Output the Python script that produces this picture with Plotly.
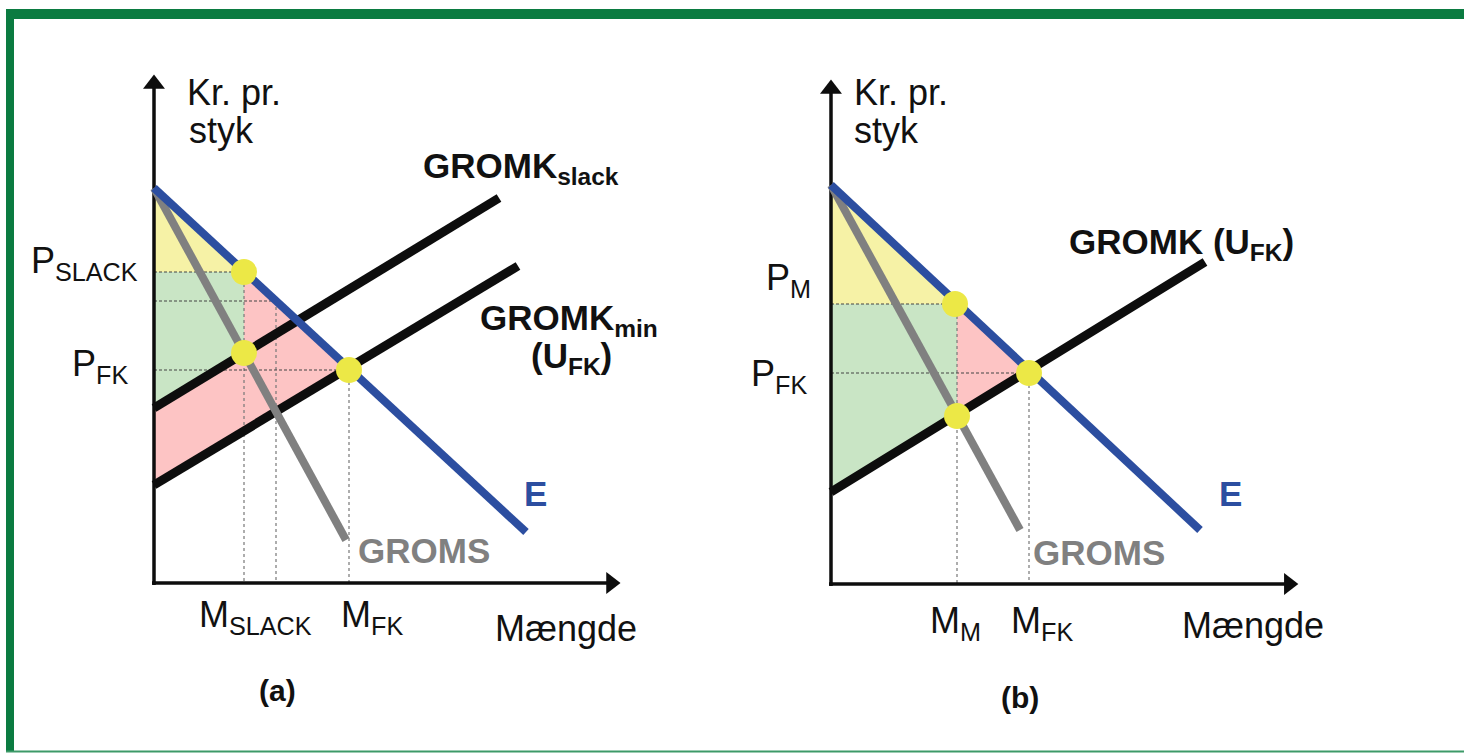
import plotly.graph_objects as go

# ---- Panel (a): quantity / price in arbitrary units, origin at the axes corner
a_E_q = [0, 9.3]
a_E_p = [9.875, 1.275]
a_groms_q = [0, 4.8]
a_groms_p = [9.875, 1.075]
a_slack_q = [0, 8.625]
a_slack_p = [4.375, 9.625]
a_min_q = [0, 9.1]
a_min_p = [2.45, 7.925]
a_dots_q = [2.25, 2.25, 4.875]       # P_slack on E, GROMS x GROMK_slack, E x GROMK_min
a_dots_p = [7.775, 5.75, 5.325]
a_mono_q, a_mono_p = 3.05, 7.05      # GROMS x GROMK_min, price read on E (guides only)

# ---- Panel (b)
b_E_q = [0, 9.225]
b_E_p = [9.975, 1.35]
b_groms_q = [0, 4.725]
b_groms_p = [9.975, 1.35]
b_gromk_q = [0, 9.35]
b_gromk_p = [2.3, 8.05]
b_dots_q = [3.1, 3.15, 4.95]         # P_M on E, GROMS x GROMK, E x GROMK
b_dots_p = [7.0, 4.2, 5.275]

# axis arrow tips (quantity, price)
a_tip_q, a_tip_p = 11.7, 12.75
b_tip_q, b_tip_p = 11.72, 12.65

BLUE = "#2c4ea0"
GREY = "#808080"
BLACK = "#0d0d0d"
DOT = "#ece846"
YELLOW_FILL = "#f6f2a6"
GREEN_FILL = "#c9e5c5"
PINK_FILL = "#fdc4c4"
FONT = "Liberation Sans, Arial, sans-serif"
PX = 40.0  # pixels per data unit

fig = go.Figure()


def poly(q, p, color, xa, ya):
    fig.add_trace(go.Scatter(x=q + [q[0]], y=p + [p[0]], fill="toself", fillcolor=color,
                             mode="lines", line=dict(width=0), hoverinfo="skip",
                             xaxis=xa, yaxis=ya))


def seg(q, p, color, width, xa, ya, dash=None):
    fig.add_trace(go.Scatter(x=q, y=p, mode="lines", line=dict(color=color, width=width, dash=dash),
                             hoverinfo="skip", xaxis=xa, yaxis=ya))


def axes_arrows(tq, tp, xa, ya):
    head = 19
    back = 1.155 * head / 2 / PX          # centre of triangle marker sits behind the tip
    seg([-0.05, tq - back], [0, 0], BLACK, 3.5, xa, ya)
    seg([0, 0], [-0.05, tp - back], BLACK, 3.5, xa, ya)
    fig.add_trace(go.Scatter(x=[tq - back], y=[0], mode="markers", hoverinfo="skip",
                             marker=dict(symbol="triangle-right", size=head, color=BLACK),
                             xaxis=xa, yaxis=ya))
    fig.add_trace(go.Scatter(x=[0], y=[tp - back], mode="markers", hoverinfo="skip",
                             marker=dict(symbol="triangle-up", size=head, color=BLACK),
                             xaxis=xa, yaxis=ya))


# ---------------- panel (a)
q1, q2, q3 = a_dots_q
p1, p2, p3 = a_dots_p
poly([0, q1, 0], [a_E_p[0], p1, p1], YELLOW_FILL, "x", "y")
poly([0, q1, q2, 0], [p1, p1, p2, a_slack_p[0]], GREEN_FILL, "x", "y")
poly([q1, q3, 0, 0, q2], [p1, p3, a_min_p[0], a_slack_p[0], p2], PINK_FILL, "x", "y")

for q, p in [(q1, p1), (a_mono_q, a_mono_p), (q3, p3)]:
    seg([0, q], [p, p], "#444", 1.2, "x", "y", dash="3px,2px")
    seg([q, q], [p, 0], "#777", 1.2, "x", "y", dash="dot")

axes_arrows(a_tip_q, a_tip_p, "x", "y")
seg(a_slack_q, a_slack_p, BLACK, 9, "x", "y")
seg(a_min_q, a_min_p, BLACK, 9, "x", "y")
seg(a_groms_q, a_groms_p, GREY, 8, "x", "y")
seg(a_E_q, a_E_p, BLUE, 8, "x", "y")
fig.add_trace(go.Scatter(x=a_dots_q, y=a_dots_p, mode="markers",
                         marker=dict(size=26, color=DOT), hoverinfo="skip", xaxis="x", yaxis="y"))

# ---------------- panel (b)
q1, q2, q3 = b_dots_q
p1, p2, p3 = b_dots_p
poly([0, q1, 0], [b_E_p[0], p1, p1], YELLOW_FILL, "x2", "y2")
poly([0, q2, q2, 0], [p1, p1, p2, b_gromk_p[0]], GREEN_FILL, "x2", "y2")
poly([q2, q3, q2], [p1, p3, p2], PINK_FILL, "x2", "y2")

for qh, qv, p in [(q1, q2, p1), (q3, q3, p3)]:
    seg([0, qh], [p, p], "#444", 1.2, "x2", "y2", dash="3px,2px")
    seg([qv, qv], [p, 0], "#777", 1.2, "x2", "y2", dash="dot")

axes_arrows(b_tip_q, b_tip_p, "x2", "y2")
seg(b_gromk_q, b_gromk_p, BLACK, 9, "x2", "y2")
seg(b_groms_q, b_groms_p, GREY, 8, "x2", "y2")
seg(b_E_q, b_E_p, BLUE, 8, "x2", "y2")
fig.add_trace(go.Scatter(x=b_dots_q, y=b_dots_p, mode="markers",
                         marker=dict(size=26, color=DOT), hoverinfo="skip", xaxis="x2", yaxis="y2"))

# ---------------- labels
ann = []


def label(xr, yr, q, p, text, size=36, color="#111", bold=False, xanchor="left"):
    if bold:
        text = "<b>" + text + "</b>"
    ann.append(dict(x=q, y=p, xref=xr, yref=yr, text=text, showarrow=False,
                    xanchor=xanchor, yanchor="middle",
                    font=dict(family=FONT, size=size, color=color)))


# panel (a)
label("x", "y", 0.775, 12.275, "Kr. pr.")
label("x", "y", 0.825, 11.325, "styk")
label("x", "y", 6.675, 10.38, "GROMK<sub>slack</sub>", size=35, bold=True)
label("x", "y", 8.1, 6.58, "GROMK<sub>min</sub>", size=35, bold=True)
label("x", "y", 10.425, 5.62, "(U<sub>FK</sub>)", size=35, bold=True, xanchor="center")
label("x", "y", -0.35, 8.0, "P<sub>SLACK</sub>", xanchor="right")
label("x", "y", -0.6, 5.42, "P<sub>FK</sub>", xanchor="right")
label("x", "y", 9.2, 2.25, "E", size=35, color=BLUE, bold=True)
label("x", "y", 5.05, 0.825, "GROMS", size=35, color=GREY, bold=True)
label("x", "y", 1.075, -0.85, "M<sub>SLACK</sub>")
label("x", "y", 4.625, -0.85, "M<sub>FK</sub>")
label("x", "y", 8.475, -1.125, "Mængde")
label("x", "y", 3.075, -2.675, "(a)", size=30, bold=True, xanchor="center")

# panel (b)
label("x2", "y2", 0.525, 12.3, "Kr. pr.")
label("x2", "y2", 0.525, 11.35, "styk")
label("x2", "y2", 5.9, 8.5, "GROMK (U<sub>FK</sub>)", size=35, bold=True)
label("x2", "y2", -0.45, 7.6, "P<sub>M</sub>", xanchor="right")
label("x2", "y2", -0.55, 5.2, "P<sub>FK</sub>", xanchor="right")
label("x2", "y2", 9.65, 2.275, "E", size=35, color=BLUE, bold=True)
label("x2", "y2", 5.0, 0.8, "GROMS", size=35, color=GREY, bold=True)
label("x2", "y2", 2.425, -0.975, "M<sub>M</sub>")
label("x2", "y2", 4.45, -0.975, "M<sub>FK</sub>")
label("x2", "y2", 8.725, -1.025, "Mængde")
label("x2", "y2", 4.725, -2.825, "(b)", size=30, bold=True, xanchor="center")

# ---------------- green frame
W, H = 1464, 753
frame = [
    dict(type="rect", xref="paper", yref="paper", x0=6 / W, x1=1.01, y0=1 - 19 / H, y1=1 - 9 / H,
         fillcolor="#0b7b41", line=dict(width=0), layer="above"),
    dict(type="rect", xref="paper", yref="paper", x0=6 / W, x1=14 / W, y0=1 - 752 / H, y1=1 - 9 / H,
         fillcolor="#0b7b41", line=dict(width=0), layer="above"),
    dict(type="rect", xref="paper", yref="paper", x0=6 / W, x1=1.01, y0=1 - 752.5 / H, y1=1 - 750.5 / H,
         fillcolor="#3d9a68", line=dict(width=0), layer="above"),
]

fig.update_layout(
    width=W, height=H, margin=dict(l=0, r=0, t=0, b=0),
    paper_bgcolor="white", plot_bgcolor="white", showlegend=False,
    xaxis=dict(domain=[0, 1], range=[-154 / PX, (W - 154) / PX], visible=False, fixedrange=True),
    yaxis=dict(domain=[0, 1], range=[-(H - 583) / PX, 583 / PX], visible=False, fixedrange=True),
    xaxis2=dict(domain=[0, 1], range=[-831 / PX, (W - 831) / PX], visible=False, fixedrange=True,
                overlaying="x"),
    yaxis2=dict(domain=[0, 1], range=[-(H - 584) / PX, 584 / PX], visible=False, fixedrange=True,
                overlaying="y"),
    annotations=ann,
    shapes=frame,
)

# page margin off so the figure sits at the window's top-left corner
fig.write_html("out.html", config={"displayModeBar": False},
               post_script="document.body.style.margin='0';")
